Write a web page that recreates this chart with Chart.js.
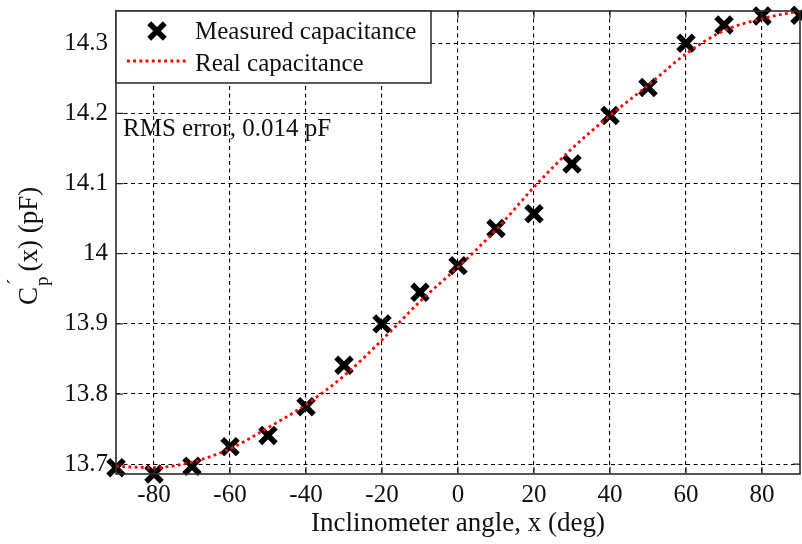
<!DOCTYPE html>
<html>
<head>
<meta charset="utf-8">
<script src="https://cdn.jsdelivr.net/npm/chart.js@4/dist/chart.umd.min.js"></script>
<style>
html, body { margin: 0; padding: 0; background: #fff; overflow: hidden; }
#wrap { width: 802px; height: 544px; position: relative; }
canvas { display: block; }
</style>
</head>
<body>
<div id="wrap"><canvas id="chart"></canvas></div>
<script>
// data
const angles = [-90, -80, -70, -60, -50, -40, -30, -20, -10, 0, 10, 20, 30, 40, 50, 60, 70, 80, 90];
const measured = [13.695, 13.686, 13.697, 13.725, 13.741, 13.782, 13.841, 13.900, 13.945, 13.983,
	14.036, 14.057, 14.128, 14.197, 14.237, 14.300, 14.326, 14.339, 14.340];
const real = [13.697, 13.695, 13.703, 13.722, 13.752, 13.785, 13.826, 13.877, 13.932, 13.981,
	14.034, 14.095, 14.150, 14.197, 14.240, 14.285, 14.318, 14.335, 14.346];
const xTicks = [-80, -60, -40, -20, 0, 20, 40, 60, 80];
const yTicks = [13.7, 13.8, 13.9, 14.0, 14.1, 14.2, 14.3];
const yTickLabels = ["13.7", "13.8", "13.9", "14", "14.1", "14.2", "14.3"];

const serif = "'Liberation Serif', 'Times New Roman', serif";
const txt = "#111";

// box, inward ticks, legend, note and y title (matlab look)
const matlabBox = {
	id: "matlabBox",
	afterDatasetsDraw(chart) {
		const { ctx, chartArea: a, scales } = chart;
		const x = scales.x, y = scales.y;
		ctx.save();
		ctx.strokeStyle = "#2a2a2a";
		ctx.lineWidth = 1.2;
		ctx.beginPath();
		xTicks.forEach((v) => {
			const px = x.getPixelForValue(v);
			ctx.moveTo(px, a.bottom); ctx.lineTo(px, a.bottom - 7);
			ctx.moveTo(px, a.top); ctx.lineTo(px, a.top + 7);
		});
		yTicks.forEach((v) => {
			const py = y.getPixelForValue(v);
			ctx.moveTo(a.left, py); ctx.lineTo(a.left + 7, py);
			ctx.moveTo(a.right, py); ctx.lineTo(a.right - 7, py);
		});
		ctx.stroke();
		ctx.lineWidth = 1.6;
		ctx.strokeRect(a.left, a.top, a.right - a.left, a.bottom - a.top);

		// legend
		const lx = a.left, ly = a.top, lw = 315, lh = 72;
		ctx.fillStyle = "#fff";
		ctx.fillRect(lx, ly, lw, lh);
		ctx.strokeStyle = "#333";
		ctx.lineWidth = 1.6;
		ctx.strokeRect(lx, ly, lw, lh);
		const m = chart.data.datasets[1];
		ctx.strokeStyle = m.borderColor;
		ctx.fillStyle = m.borderColor;
		ctx.lineWidth = m.borderWidth;
		Chart.helpers.drawPoint(ctx, { pointStyle: m.pointStyle, radius: m.pointRadius, borderWidth: m.borderWidth, rotation: 0 }, lx + 41, ly + 20);
		const r = chart.data.datasets[0];
		ctx.strokeStyle = r.borderColor;
		ctx.lineWidth = r.borderWidth;
		ctx.setLineDash(r.borderDash);
		ctx.beginPath();
		ctx.moveTo(lx + 11, ly + 50);
		ctx.lineTo(lx + 70, ly + 50);
		ctx.stroke();
		ctx.setLineDash([]);
		ctx.fillStyle = txt;
		ctx.font = "25px " + serif;
		ctx.textBaseline = "middle";
		ctx.textAlign = "left";
		ctx.fillText(m.label, lx + 79, ly + 21);
		ctx.fillText(r.label, lx + 79, ly + 53);

		// note
		ctx.fillText("RMS error, 0.014 pF", a.left + 7, 129);

		// y title: C'_p(x) (pF)
		ctx.translate(37, 305);
		ctx.rotate(-Math.PI / 2);
		ctx.textBaseline = "alphabetic";
		ctx.font = "27px " + serif;
		ctx.fillText("C", 0, 0);
		const cw = ctx.measureText("C").width;
		ctx.font = "19px " + serif;
		ctx.fillText("\u00b4", cw + 2, -17);
		ctx.fillText("p", cw + 1, 11);
		const pw = ctx.measureText("p").width;
		ctx.font = "27px " + serif;
		ctx.fillText("(x) (pF)", cw + pw + 6, 0);
		ctx.restore();
	},
};

const ctx = document.getElementById("chart").getContext("2d");
const chart = new Chart(ctx, {
	type: "scatter",
	data: {
		datasets: [
			{
				label: "Real capacitance",
				data: angles.map((a, i) => ({ x: a, y: real[i] })),
				showLine: true,
				borderColor: "#ff0000",
				borderWidth: 2.8,
				borderDash: [2.8, 3.4],
				borderCapStyle: "butt",
				cubicInterpolationMode: "monotone",
				pointRadius: 0,
				order: 0,
			},
			{
				label: "Measured capacitance",
				data: angles.map((a, i) => ({ x: a, y: measured[i] })),
				showLine: false,
				pointStyle: "crossRot",
				pointRadius: 11,
				borderWidth: 5.5,
				borderColor: "#000",
				backgroundColor: "#000",
				clip: false,
				order: 1,
			},
		],
	},
	options: {
		responsive: true,
		maintainAspectRatio: false,
		animation: false,
		layout: { autoPadding: false, padding: { left: 0, top: 11, right: 2, bottom: 0 } },
		plugins: {
			legend: { display: false },
			tooltip: { enabled: false },
		},
		scales: {
			x: {
				type: "linear",
				min: -90,
				max: 90,
				afterBuildTicks: (s) => { s.ticks = xTicks.map((v) => ({ value: v })); },
				afterFit: (s) => { s.height = 70; s.paddingLeft = 0; s.paddingRight = 0; },
				ticks: {
					padding: 6,
					color: txt,
					font: { family: serif, size: 25 },
					callback: (v) => String(v),
				},
				grid: { color: "#000", lineWidth: 1.1, drawTicks: false },
				border: { display: false, dash: [4, 3.5] },
				title: {
					display: true,
					text: "Inclinometer angle, x (deg)",
					color: txt,
					font: { family: serif, size: 27 },
					padding: { top: 0, bottom: 4 },
				},
			},
			y: {
				type: "linear",
				min: 13.686,
				max: 14.346,
				afterBuildTicks: (s) => { s.ticks = yTicks.map((v) => ({ value: v })); },
				afterFit: (s) => { s.width = 116; s.paddingTop = 0; s.paddingBottom = 0; },
				ticks: {
					padding: 8,
					color: txt,
					font: { family: serif, size: 25 },
					callback: (v, i) => yTickLabels[i],
				},
				grid: { color: "#000", lineWidth: 1.1, drawTicks: false },
				border: { display: false, dash: [4, 3.5] },
			},
		},
	},
	plugins: [matlabBox],
});
</script>
</body>
</html>
